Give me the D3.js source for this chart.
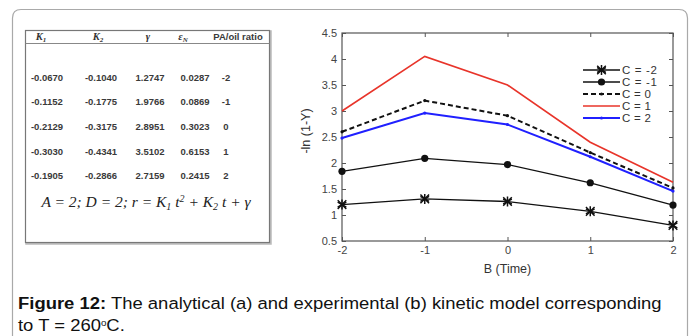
<!DOCTYPE html>
<meta charset="utf-8">
<script src="https://d3js.org/d3.v7.min.js"></script>
<style>
  body { margin: 0; background: #fff; }
  text { font-family: "Liberation Sans", Arial, sans-serif; }
</style>
<div id="fig"></div>
<script>

// ---- data ----
var times = [-2, -1, 0, 1, 2];
var seriesNames = ["C = -2", "C = -1", "C = 0", "C = 1", "C = 2"];
var cm2 = [1.20, 1.31, 1.26, 1.07, 0.80];
var cm1 = [1.84, 2.09, 1.97, 1.62, 1.19];
var c0  = [2.60, 3.20, 2.91, 2.20, 1.52];
var c1  = [3.00, 4.05, 3.50, 2.40, 1.63];
var c2  = [2.48, 2.96, 2.74, 2.12, 1.46];
var yTicks = [0.5, 1, 1.5, 2, 2.5, 3, 3.5, 4, 4.5];

// table (a)
var colK1 = ["-0.0670", "-0.1152", "-0.2129", "-0.3030", "-0.1905"];
var colK2 = ["-0.1040", "-0.1775", "-0.3175", "-0.4341", "-0.2866"];
var colGamma = ["1.2747", "1.9766", "2.8951", "3.5102", "2.7159"];
var colEps = ["0.0287", "0.0869", "0.3023", "0.6153", "0.2415"];
var colRatio = ["-2", "-1", "0", "1", "2"];

var W = 691, H = 336;
var svg = d3.select("#fig").append("svg")
    .attr("width", W)
    .attr("height", H);

// outer rounded frame
svg.append("path")
    .attr("d", "M12.5,340 V18 Q12.5,9.5 21,9.5 H679 Q687.5,9.5 687.5,18 V340")
    .attr("fill", "none")
    .attr("stroke", "#a9a9a9")
    .attr("stroke-width", 1.2);

// ---------- table ----------
var tbl = svg.append("g");
tbl.append("rect")
    .attr("x", 26.5).attr("y", 31.5)
    .attr("width", 244).attr("height", 212)
    .attr("fill", "none").attr("stroke", "#bbb").attr("stroke-width", 2.5);
tbl.append("rect")
    .attr("x", 25.5).attr("y", 30.5)
    .attr("width", 244).attr("height", 212)
    .attr("fill", "#fff").attr("stroke", "#777").attr("stroke-width", 1.2);
tbl.append("line")
    .attr("x1", 25.5).attr("x2", 269.5).attr("y1", 43.5).attr("y2", 43.5)
    .attr("stroke", "#888").attr("stroke-width", 1);

var colX = [47, 101, 150, 195, 226];
var rowY = [80.5, 105, 130, 154.5, 179];

// header
var hy = 39.5;
function hdr(x, main, sub) {
  var t = tbl.append("text").attr("x", x).attr("y", hy)
      .attr("text-anchor", "middle")
      .style("font-family", "'Liberation Serif', serif")
      .style("font-style", "italic").style("font-weight", "bold")
      .style("font-size", "10.5px").attr("fill", "#333");
  t.append("tspan").text(main);
  if (sub) t.append("tspan").attr("dy", 2).style("font-size", "7px").text(sub);
}
hdr(41, "K", "1");
hdr(98, "K", "2");
hdr(148, "γ");
hdr(183, "ε", "N");
tbl.append("text").attr("x", 238).attr("y", hy)
    .attr("text-anchor", "middle")
    .style("font-size", "9.5px").style("font-weight", "bold")
    .attr("fill", "#3a3a3a").text("PA/oil ratio");

[colK1, colK2, colGamma, colEps, colRatio].forEach(function(col, ci) {
  tbl.selectAll(null).data(col).enter().append("text")
      .attr("x", colX[ci])
      .attr("y", function(d, i) { return rowY[i]; })
      .attr("text-anchor", "middle")
      .style("font-size", "9.5px")
      .style("font-weight", "bold")
      .attr("fill", "#3a3a3a")
      .text(function(d) { return d; });
});

// equation
var eq = tbl.append("text").attr("x", 146).attr("y", 207)
    .attr("text-anchor", "middle")
    .style("font-family", "'Liberation Serif', serif")
    .style("font-style", "italic")
    .style("font-size", "15.5px").attr("fill", "#222");
eq.append("tspan").text("A = 2; D = 2;  r = K");
eq.append("tspan").attr("dy", 3).style("font-size", "10px").text("1");
eq.append("tspan").attr("dy", -3).text(" t");
eq.append("tspan").attr("dy", -5).style("font-size", "10px").text("2");
eq.append("tspan").attr("dy", 5).text(" + K");
eq.append("tspan").attr("dy", 3).style("font-size", "10px").text("2");
eq.append("tspan").attr("dy", -3).text(" t + γ");

// ---------- chart ----------
var x = d3.scaleLinear().domain([-2, 2]).range([342, 673]);
var y = d3.scaleLinear().domain([0.5, 4.5]).range([241, 33]);
var axisColor = "#555";
var plain = function(d) { return String(d); };

var g = svg.append("g");
g.append("rect")
    .attr("x", x(-2)).attr("y", y(4.5))
    .attr("width", x(2) - x(-2)).attr("height", y(0.5) - y(4.5))
    .attr("fill", "#fff").attr("stroke", axisColor).attr("stroke-width", 1.2);

function styleAxis(sel) {
  sel.select(".domain").remove();
  sel.selectAll(".tick line").attr("stroke", axisColor);
  sel.selectAll(".tick text")
      .style("font-family", "'Liberation Sans', Arial, sans-serif")
      .style("font-size", "11px").attr("fill", "#444");
}

g.append("g").attr("transform", "translate(" + x(-2) + ",0)")
    .call(d3.axisLeft(y).tickValues(yTicks).tickSize(-4).tickPadding(5).tickFormat(plain))
    .call(styleAxis);
g.append("g").attr("transform", "translate(" + x(2) + ",0)")
    .call(d3.axisRight(y).tickValues(yTicks).tickSize(-4).tickFormat(""))
    .call(styleAxis);
g.append("g").attr("transform", "translate(0," + y(0.5) + ")")
    .call(d3.axisBottom(x).tickValues(times).tickSize(-4).tickPadding(5).tickFormat(plain))
    .call(styleAxis);
g.append("g").attr("transform", "translate(0," + y(4.5) + ")")
    .call(d3.axisTop(x).tickValues(times).tickSize(-4).tickFormat(""))
    .call(styleAxis);

g.append("text")
    .attr("x", (x(-2) + x(2)) / 2).attr("y", 273)
    .attr("text-anchor", "middle")
    .style("font-size", "12.5px").attr("fill", "#333")
    .text("B (Time)");
g.append("text")
    .attr("transform", "translate(310," + ((y(0.5) + y(4.5)) / 2 - 6) + ") rotate(-90)")
    .attr("text-anchor", "middle")
    .style("font-size", "12.5px").attr("fill", "#333")
    .text("-ln (1-Y)");

var series = [
  {name: seriesNames[0], values: cm2, color: "#111", width: 1.3, dash: null, marker: "star"},
  {name: seriesNames[1], values: cm1, color: "#111", width: 1.3, dash: null, marker: "dot"},
  {name: seriesNames[2], values: c0, color: "#111", width: 2, dash: "5,3", marker: "small"},
  {name: seriesNames[3], values: c1, color: "#e8342a", width: 1.6, dash: null, marker: null},
  {name: seriesNames[4], values: c2, color: "#2020ff", width: 2, dash: null, marker: "small"}
];

var line = d3.line()
    .x(function(d, i) { return x(times[i]); })
    .y(function(d) { return y(d); });

var star = d3.symbol().type(d3.symbolAsterisk).size(70);
var cross = d3.symbol().type(d3.symbolTimes).size(50);

function drawMarker(sel, s, cx, cy) {
  if (s.marker === "star") {
    sel.append("path").attr("d", star()).attr("transform", "translate(" + cx + "," + cy + ")")
        .attr("fill", "none").attr("stroke", s.color).attr("stroke-width", 1.5);
    sel.append("path").attr("d", cross()).attr("transform", "translate(" + cx + "," + cy + ")")
        .attr("fill", "none").attr("stroke", s.color).attr("stroke-width", 1.5);
  } else if (s.marker === "dot") {
    sel.append("circle").attr("cx", cx).attr("cy", cy).attr("r", 3.6).attr("fill", s.color);
  } else if (s.marker === "small") {
    sel.append("circle").attr("cx", cx).attr("cy", cy).attr("r", 1.6).attr("fill", s.color);
  }
}

// draw lower series last so markers sit on top
series.slice().reverse().forEach(function(s) {
  g.append("path")
      .datum(s.values)
      .attr("d", line)
      .attr("fill", "none")
      .attr("stroke", s.color)
      .attr("stroke-width", s.width)
      .attr("stroke-dasharray", s.dash);
  s.values.forEach(function(v, i) { drawMarker(g, s, x(times[i]), y(v)); });
});

// legend
var leg = g.append("g");
series.forEach(function(s, i) {
  var ly = 70 + i * 12;
  leg.append("line")
      .attr("x1", 583).attr("x2", 620).attr("y1", ly).attr("y2", ly)
      .attr("stroke", s.color).attr("stroke-width", s.width)
      .attr("stroke-dasharray", s.dash);
  drawMarker(leg, s, 601.5, ly);
  leg.append("text")
      .attr("x", 622).attr("y", ly + 4)
      .style("font-size", "11.5px").attr("fill", "#333")
      .attr("textLength", i < 2 ? 35 : 29)
      .text(s.name);
});

// caption (the reference caption is set a bit wide, so stretch it slightly)
var cap = svg.append("g").style("font-size", "17px").attr("fill", "#111");
var l1 = cap.append("text").attr("x", 18).attr("y", 309);
l1.append("tspan").style("font-weight", "bold").text("Figure 12:");
l1.append("tspan").text(" The analytical (a) and experimental (b) kinetic model corresponding");
var l2 = cap.append("text").attr("x", 18).attr("y", 331);
l2.append("tspan").text("to T = 260");
l2.append("tspan").attr("dy", -5).style("font-size", "9px").text("o");
l2.append("tspan").attr("dy", 5).text("C.");
var sx = 644 / l1.node().getComputedTextLength();
cap.attr("transform", "translate(18,0) scale(" + sx + ",1) translate(-18,0)");

</script>
